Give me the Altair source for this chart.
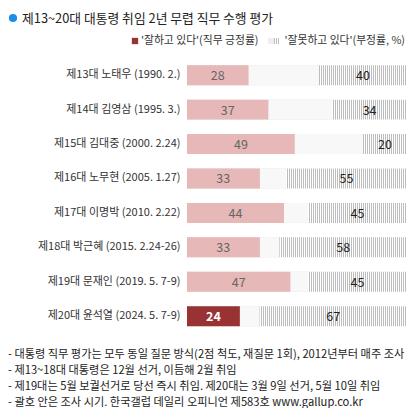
import altair as alt
import pandas as pd

terms = [
    "제13대 노태우 (1990. 2.)",
    "제14대 김영삼 (1995. 3.)",
    "제15대 김대중 (2000. 2.24)",
    "제16대 노무현 (2005. 1.27)",
    "제17대 이명박 (2010. 2.22)",
    "제18대 박근혜 (2015. 2.24-26)",
    "제19대 문재인 (2019. 5. 7-9)",
    "제20대 윤석열 (2024. 5. 7-9)",
]
positive = [28, 37, 49, 33, 44, 33, 47, 24]
negative = [40, 34, 20, 55, 45, 58, 45, 67]

title_text = "제13~20대 대통령 취임 2년 무렵 직무 수행 평가"
legend_pos = "'잘하고 있다'(직무 긍정률)"
legend_neg = "'잘못하고 있다'(부정률, %)"
notes = [
    "- 대통령 직무 평가는 모두 동일 질문 방식(2점 척도, 재질문 1회), 2012년부터 매주 조사",
    "- 제13~18대 대통령은 12월 선거, 이듬해 2월 취임",
    "- 제19대는 5월 보궐선거로 당선 즉시 취임. 제20대는 3월 9일 선거, 5월 10일 취임",
    "- 괄호 안은 조사 시기. 한국갤럽 데일리 오피니언 제583호 www.gallup.co.kr",
]

FONT = "Noto Sans CJK KR"
LAST = terms[-1]
PINK = "#e6b8b8"
DARK = "#993333"
NEUTRAL = "#f8f8f8"
STRIPE = "#bdbdbd"

df = pd.DataFrame({"term": terms, "pos": positive, "neg": negative})

# vertical stripe pattern (2px period over the 220px plot width)
stops = []
n = 110
for i in range(n):
    a, b, c = i / n, (i + 0.5) / n, (i + 1) / n
    stops += [
        alt.GradientStop(offset=a, color=STRIPE),
        alt.GradientStop(offset=b, color=STRIPE),
        alt.GradientStop(offset=b, color="#ffffff"),
        alt.GradientStop(offset=c, color="#ffffff"),
    ]
stripe_fill = alt.Gradient(gradient="linear", stops=stops, x1=0, x2=1, y1=0, y2=0)

yenc = alt.Y(
    "term:N",
    sort=None,
    title=None,
    scale=alt.Scale(paddingInner=0.42, paddingOuter=0.21),
    axis=alt.Axis(
        ticks=False, domain=False, labelFont=FONT, labelFontSize=11,
        labelColor="#333333", labelPadding=7, labelLimit=200,
    ),
)
xscale = alt.Scale(domain=[0, 100], nice=False, zero=True)

base = alt.Chart(df).transform_calculate(
    full0="0", full1="100", midend="100 - datum.neg",
    poslab="datum.pos / 2", neglab="100 - datum.neg / 2",
)

striped = base.mark_bar(fill=stripe_fill, stroke=None).encode(
    x=alt.X("full0:Q", scale=xscale, axis=None),
    x2="full1:Q",
    y=yenc,
)
middle = base.mark_bar(color=NEUTRAL).encode(
    x=alt.X("pos:Q", scale=xscale, axis=None), x2="midend:Q", y=yenc,
)
posbar = base.mark_bar().encode(
    x=alt.X("full0:Q", scale=xscale, axis=None),
    x2="pos:Q",
    y=yenc,
    color=alt.condition(alt.datum.term == LAST, alt.value(DARK), alt.value(PINK)),
)
postext = base.transform_filter(alt.datum.term != LAST).mark_text(
    font=FONT, fontSize=12.5, color="#666666", baseline="middle", dy=1
).encode(
    x=alt.X("poslab:Q", scale=xscale, axis=None), y=yenc, text="pos:Q",
)
postext_last = base.transform_filter(alt.datum.term == LAST).mark_text(
    font=FONT, fontSize=12.5, color="#ffffff", fontWeight="bold", baseline="middle", dy=1
).encode(
    x=alt.X("poslab:Q", scale=xscale, axis=None), y=yenc, text="pos:Q",
)
negtext = base.mark_text(
    font=FONT, fontSize=12.5, color="#222222", baseline="middle", dy=1
).encode(
    x=alt.X("neglab:Q", scale=xscale, axis=None), y=yenc, text="neg:Q",
)

# title, legend and notes (positions relative to plot origin)
ann = alt.Chart(pd.DataFrame({"d": [0]}))
title_dot = ann.mark_circle(color="#1a8fe6", opacity=1, size=66).encode(
    x=alt.value(-174), y=alt.value(-40)
)
title = ann.mark_text(
    text=title_text, font=FONT, fontSize=12.8, color="#222222",
    align="left", baseline="middle",
).encode(x=alt.value(-165), y=alt.value(-39.5))

leg_sq1 = ann.mark_square(color=DARK, opacity=1, size=40).encode(
    x=alt.value(-52), y=alt.value(-17)
)
leg_t1 = ann.mark_text(
    text=legend_pos, font=FONT, fontSize=10.8, color="#333333",
    align="left", baseline="middle",
).encode(x=alt.value(-46), y=alt.value(-17))
leg_sq2 = ann.mark_square(color="#eeeeee", opacity=1, size=40).encode(
    x=alt.value(84), y=alt.value(-17)
)
leg_sq3 = ann.mark_rect(fill=alt.Gradient(
    gradient="linear", x1=0, x2=1, y1=0, y2=0,
    stops=[alt.GradientStop(offset=o, color=c) for o, c in [
        (0, STRIPE), (1/6, STRIPE), (1/6, "#ffffff"), (2/6, "#ffffff"),
        (2/6, STRIPE), (3/6, STRIPE), (3/6, "#ffffff"), (4/6, "#ffffff"),
        (4/6, STRIPE), (5/6, STRIPE), (5/6, "#ffffff"), (1, "#ffffff")]],
)).encode(x=alt.value(87), x2=alt.value(93), y=alt.value(-20), y2=alt.value(-14))
leg_t2 = ann.mark_text(
    text=legend_neg, font=FONT, fontSize=10.8, color="#333333",
    align="right", baseline="middle",
).encode(x=alt.value(218), y=alt.value(-17))

note_layers = []
for i, t in enumerate(notes):
    note_layers.append(
        ann.mark_text(
            text=t, font=FONT, fontSize=11.2, color="#222222",
            align="left", baseline="middle",
        ).encode(x=alt.value(-179), y=alt.value(297 + i * 16))
    )

chart = alt.layer(
    striped, middle, posbar, postext, postext_last, negtext,
    title_dot, title, leg_sq1, leg_t1, leg_sq2, leg_sq3, leg_t2, *note_layers,
).properties(
    width=220, height=275.4,
    autosize=alt.AutoSizeParams(type="none"),
    padding={"left": 179, "top": 50, "right": 3, "bottom": 74.6},
).configure_view(stroke=None)

chart.save("out.html", embed_options={"renderer": "svg", "actions": False})
